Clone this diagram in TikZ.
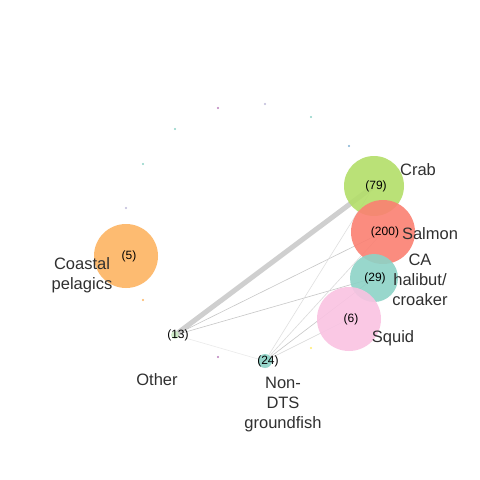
\documentclass[tikz,border=0pt]{standalone}
\usepackage{fontspec}
\setmainfont{Liberation Sans}
\begin{document}
\definecolor{sTeal}{HTML}{8DD3C7}
\definecolor{sYellow}{HTML}{FFED6F}
\definecolor{sLav}{HTML}{BEBADA}
\definecolor{sRed}{HTML}{FB8072}
\definecolor{sBlue}{HTML}{80B1D3}
\definecolor{sOrange}{HTML}{FDB462}
\definecolor{sGreen}{HTML}{B3DE69}
\definecolor{sPink}{HTML}{FAC3E2}
\definecolor{sMag}{HTML}{BC80BD}
\definecolor{sMint}{HTML}{CCEBC5}
\definecolor{labelgray}{HTML}{303030}
\begin{tikzpicture}[x=1pt,y=-1pt,
  bubble/.style={circle,inner sep=0pt,minimum size=#1,fill opacity=0.9,draw=none},
  count/.style={font=\fontsize{12}{14}\selectfont,text=black,inner sep=0pt},
  lbl/.style={font=\fontsize{16.5}{20}\selectfont,text=labelgray,align=center,inner sep=0pt},
  dot/.style={circle,inner sep=0pt,minimum size=2.4pt,fill=#1,draw=none},
  link/.style={draw=black!22,line width=0.6pt},
  faint/.style={draw=black!8,line width=0.6pt},
  heavy/.style={draw=black!19,line width=5pt}]
\useasboundingbox (0,0) rectangle (480,480);
\fill[white] (0,0) rectangle (480,480);

% node centres
\coordinate (crabC) at (374,186);
\coordinate (salmonC) at (383,232);
\coordinate (caC) at (374,278);
\coordinate (squidC) at (349,319);
\coordinate (coastC) at (126,256);
\coordinate (otherC) at (175,335);
\coordinate (ndtsC) at (265,361);

% connectors, drawn below the bubbles
\draw[faint] (otherC) -- (ndtsC);
\draw[heavy] (otherC) -- (crabC);
\draw[link] (otherC) -- (salmonC);
\draw[link] (otherC) -- (caC);
\draw[link,draw=black!12] (ndtsC) -- (crabC);
\draw[link,draw=black!14] (ndtsC) -- (salmonC);
\draw[link] (ndtsC) -- (caC);
\draw[link,draw=black!16] (ndtsC) -- (squidC);

% bubbles
\node[bubble=60pt,fill=sGreen] (crab) at (crabC) {};
\node[bubble=64pt,fill=sRed] (salmon) at (salmonC) {};
\node[bubble=48pt,fill=sTeal] (ca) at (caC) {};
\node[bubble=64pt,fill=sPink] (squid) at (squidC) {};
\node[bubble=64pt,fill=sOrange] (coast) at (coastC) {};
\node[bubble=8pt,fill=sMint] (other) at (otherC) {};
\node[bubble=14pt,fill=sTeal] (ndts) at (ndtsC) {};

% counts
\node[count] (crabN) at (376,186) {(79)};
\node[count] (salmonN) at (385,232) {(200)};
\node[count] (caN) at (375,278) {(29)};
\node[count] (squidN) at (351,319) {(6)};
\node[count] (coastN) at (129,256) {(5)};
\node[count] (otherN) at (178,335) {(13)};
\node[count] (ndtsN) at (268,361) {(24)};

% labels
\node[lbl] (crabL) at (418,170) {Crab};
\node[lbl] (salmonL) at (430,234) {Salmon};
\node[lbl] (caL) at (420,280) {CA\\halibut/\\croaker};
\node[lbl] (squidL) at (393,338) {Squid};
\node[lbl] (coastL) at (82,275) {Coastal\\pelagics};
\node[lbl] (otherL) at (157,380) {Other};
\node[lbl] (ndtsL) at (283,405) {Non-\\DTS\\groundfish};

% small unlabelled vertices
\node[dot=sMag] (d1) at (218,108) {};
\node[dot=sLav] (d2) at (265,104) {};
\node[dot=sTeal] (d3) at (311,117) {};
\node[dot=sBlue] (d4) at (349,146) {};
\node[dot=sTeal] (d5) at (175,129) {};
\node[dot=sTeal] (d6) at (143,164) {};
\node[dot=sLav] (d7) at (126,208) {};
\node[dot=sOrange] (d8) at (143,300) {};
\node[dot=sMag] (d9) at (218,357) {};
\node[dot=sYellow] (d10) at (311,348) {};
\end{tikzpicture}
\end{document}
